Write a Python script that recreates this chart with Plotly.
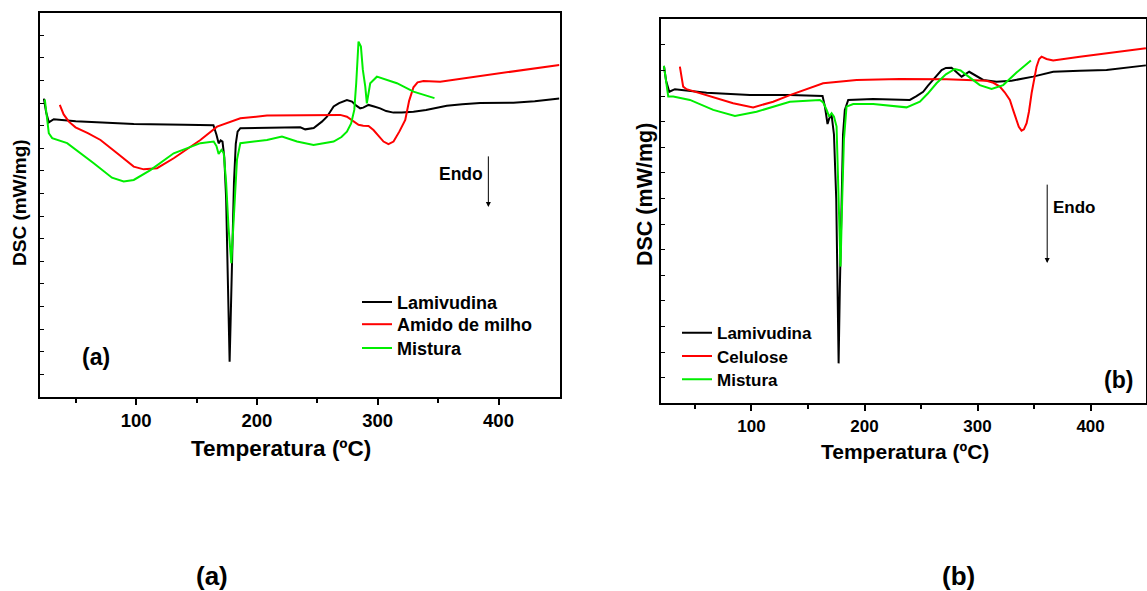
import plotly.graph_objects as go

W, H = 1147, 591
FONT = "Liberation Sans, Arial, sans-serif"

# ---------------- Panel (a): Lamivudina / Amido de milho / Mistura ----------------
names_a = ["Lamivudina", "Amido de milho", "Mistura"]
colors = ["#000000", "#ff0000", "#00ee00"]

a_lam_T = [23.6, 25.5, 27.7, 31.8, 50, 98, 140, 164, 166.5, 168.3, 170, 171.5, 173, 174.5, 175.8, 176.8,
           177.4, 178.3, 179.5, 181, 182.5, 184, 186.3, 200, 219.4, 235.9, 240, 247, 253.8, 258, 263.5,
           268, 274.5, 278.7, 282, 285.5, 288, 292.4, 297, 302, 307, 313, 320, 329.6, 340, 357.2, 370,
           384.8, 412.3, 430, 450.4]
a_lam_Y = [13.2, 12.6, 12.15, 12.29, 12.2, 12.08, 12.04, 12.02, 11.6, 11.22, 11.35, 11.3, 10.6, 8.8, 5.5, 3.0,
           1.56, 3.5, 6.5, 9.5, 11.2, 11.74, 11.89, 11.9, 11.89, 11.93, 11.84, 11.9, 12.18, 12.4, 12.85,
           13.0, 13.14, 13.07, 12.9, 12.77, 12.8, 12.92, 12.85, 12.77, 12.65, 12.58, 12.58, 12.62, 12.7, 12.88, 12.95,
           13.0, 13.02, 13.08, 13.2]

a_ami_T = [36.8, 40, 44.3, 49.8, 60, 70.5, 84.3, 98, 106.3, 117.3, 131.1, 153.2, 167, 186.3, 208.3, 235.9,
           269, 274.5, 280, 284.1, 288, 292.4, 296.5, 304.8, 308.9, 313.1, 318, 322.8, 326, 329.6, 333,
           337.9, 351.7, 384.8, 412.3, 450.4]
a_ami_Y = [12.92, 12.5, 12.18, 11.93, 11.67, 11.37, 10.78, 10.19, 10.07, 10.12, 10.56, 11.37, 11.96, 12.33, 12.45, 12.45,
           12.48, 12.4, 12.2, 12.04, 12.0, 11.99, 11.81, 11.3, 11.19, 11.3, 11.75, 12.26, 13.1, 13.7, 13.92,
           13.98, 13.95, 14.2, 14.39, 14.69]

a_mis_T = [24.4, 26, 27.7, 30.5, 42.9, 64.9, 80, 89.7, 98, 111.8, 131.1, 153.2, 164.2, 166.5, 168.3, 170.6,
           172.5, 174.5, 176.5, 178.8, 181, 183.5, 186.3, 208.3, 220.7, 233.2, 246.9, 263.5, 270, 274.5,
           278, 280.6, 282.2, 284.1, 286.1, 287.7, 289.7, 291, 293.8, 299.3, 315.9, 329.6, 347]
a_mis_Y = [13.17, 12.3, 11.67, 11.45, 11.23, 10.34, 9.7, 9.53, 9.6, 10.04, 10.78, 11.23, 11.3, 11.1, 10.75, 10.93,
           10.8, 9.5, 7.5, 5.92, 8.0, 10.5, 11.23, 11.37, 11.52, 11.3, 11.15, 11.3, 11.5, 11.74,
           12.1, 12.7, 13.88, 15.72, 15.5, 14.47, 13.73, 12.99, 13.88, 14.17, 13.88, 13.51, 13.22]

# ---------------- Panel (b): Lamivudina / Celulose / Mistura ----------------
names_b = ["Lamivudina", "Celulose", "Mistura"]

b_lam_T = [22.6, 24.5, 27.3, 32.3, 60.3, 98.6, 134, 162.9, 165, 167.3, 168.8, 170.9, 173, 175, 176,
           177.1, 178.2, 179.5, 181, 182.6, 185.6, 207.7, 231.3, 240.1, 246, 251.9, 256, 260.7, 265, 268.2,
           272, 277, 281, 285.9, 292.6, 298, 305, 316.8, 330, 349.2, 366.9, 390.5, 414.1, 448.9]
b_lam_Y = [13.18, 12.6, 12.17, 12.27, 12.13, 12.04, 12.04, 12.0, 11.59, 10.91, 11.13, 11.26, 10.5, 8.0, 5.0,
           1.56, 4.5, 8.0, 10.5, 11.46, 11.85, 11.89, 11.88, 11.85, 12.0, 12.17, 12.4, 12.63, 12.85, 13.02,
           13.1, 13.11, 12.95, 12.76, 12.95, 12.8, 12.63, 12.56, 12.6, 12.76, 12.95, 12.99, 13.02, 13.2]

b_cel_T = [36.7, 38, 39.6, 42.6, 60.3, 83.8, 101.5, 119.2, 134, 163.4, 193, 231.3, 272.6, 308, 314,
           319.7, 324, 328.6, 331.5, 334.5, 336.5, 338.9, 341, 343.4, 345.5, 347.8, 350, 352.2, 354.5,
           356.6, 361, 366.9, 390.5, 420, 448.9]
b_cel_Y = [13.15, 12.7, 12.37, 12.27, 12.04, 11.72, 11.56, 11.78, 12.04, 12.5, 12.63, 12.67, 12.66, 12.6, 12.52,
           12.37, 12.15, 11.85, 11.45, 11.07, 10.8, 10.65, 10.7, 10.94, 11.4, 12.11, 12.7, 13.15, 13.45,
           13.54, 13.45, 13.39, 13.54, 13.7, 13.87]

b_mis_T = [22.6, 24.5, 26.4, 30.8, 45.6, 66.2, 85.4, 104.5, 134, 160.5, 163.5, 166.5, 168.8, 170.9, 173,
           175.3, 177, 178.8, 180.3, 181.8, 184.1, 190, 207.7, 231.3, 237.2, 249, 256, 263.7, 272, 279.9,
           285, 290.3, 302, 312.4, 322.7, 334.5, 347.2]
b_mis_Y = [13.18, 12.5, 11.98, 11.98, 11.85, 11.46, 11.22, 11.39, 11.78, 11.85, 11.75, 11.46, 11.2, 11.33, 11.2,
           10.81, 8.5, 5.34, 8.0, 10.29, 11.59, 11.69, 11.69, 11.59, 11.56, 11.78, 12.1, 12.5, 12.85, 13.06,
           13.0, 12.82, 12.43, 12.28, 12.43, 12.92, 13.39]

x_tickvals = [100, 200, 300, 400]
x_minor_tickvals = [50, 150, 250, 350]
x_title = "Temperatura (ºC)"
y_title = "DSC (mW/mg)"


def px_x(x):
    return x / W


def px_y(y):
    return 1 - y / H


def bold(s):
    return dict(family=FONT, size=s, color="black", weight="bold")


fig = go.Figure()

series_a = [(a_lam_T, a_lam_Y), (a_ami_T, a_ami_Y), (a_mis_T, a_mis_Y)]
series_b = [(b_lam_T, b_lam_Y), (b_cel_T, b_cel_Y), (b_mis_T, b_mis_Y)]

# one legend per entry so every row sits where it does in the original
legend_layout = {}
leg_a_rows = [283.7, 306.0, 329.7]
leg_b_rows = [315.2, 338.5, 361.8]
k = 1
for (t, y), name, c, top in zip(series_a, names_a, colors, leg_a_rows):
    lname = "legend" if k == 1 else f"legend{k}"
    fig.add_trace(go.Scatter(x=t, y=y, mode="lines", name=name, line=dict(color=c, width=2),
                             xaxis="x", yaxis="y", legend=lname))
    legend_layout[lname] = dict(x=px_x(357), y=px_y(top), xanchor="left", yanchor="top",
                                bgcolor="rgba(0,0,0,0)", font=bold(18))
    k += 1
for (t, y), name, c, top in zip(series_b, names_b, colors, leg_b_rows):
    lname = f"legend{k}"
    fig.add_trace(go.Scatter(x=t, y=y, mode="lines", name=name, line=dict(color=c, width=2),
                             xaxis="x2", yaxis="y2", legend=lname))
    legend_layout[lname] = dict(x=px_x(677), y=px_y(top), xanchor="left", yanchor="top",
                                bgcolor="rgba(0,0,0,0)", font=bold(17))
    k += 1


def xaxis_style(fs):
    return dict(tickvals=x_tickvals, ticks="outside", ticklen=6, tickwidth=1.5, tickcolor="black",
                showline=True, linewidth=2, linecolor="black", mirror=True, showgrid=False,
                zeroline=False, tickfont=bold(fs),
                minor=dict(tickvals=x_minor_tickvals, ticks="outside", ticklen=4, tickwidth=1.5,
                           tickcolor="black", showgrid=False))


ycommon = dict(dtick=1, tick0=0, ticks="inside", ticklen=4, tickwidth=1, tickcolor="black",
               showline=True, linewidth=2, linecolor="black", mirror=True, showgrid=False,
               zeroline=False, showticklabels=False)

fig.update_layout(
    width=W, height=H, margin=dict(l=0, r=0, t=0, b=0),
    paper_bgcolor="white", plot_bgcolor="white",
    xaxis=dict(domain=[px_x(39.5), px_x(559.5)], range=[20, 450.5], anchor="y", **xaxis_style(18.5)),
    yaxis=dict(domain=[px_y(397), px_y(12.7)], range=[0, 17], anchor="x", **ycommon),
    xaxis2=dict(domain=[px_x(661), px_x(1146)], range=[20, 449], anchor="y2", **xaxis_style(17)),
    yaxis2=dict(domain=[px_y(403.3), px_y(19.3)], range=[0, 15], anchor="x2", **ycommon),
    showlegend=True,
    **legend_layout,
)

annotations = [
    # axis titles
    dict(text=x_title, x=px_x(280.5), y=px_y(448), xref="paper", yref="paper", showarrow=False,
         font=bold(22.5), xanchor="center", yanchor="middle"),
    dict(text=x_title, x=px_x(905), y=px_y(451.5), xref="paper", yref="paper", showarrow=False,
         font=bold(21), xanchor="center", yanchor="middle"),
    dict(text=y_title, x=px_x(20), y=px_y(203), xref="paper", yref="paper", showarrow=False,
         font=bold(19), textangle=-90, xanchor="center", yanchor="middle"),
    dict(text=y_title, x=px_x(645), y=px_y(195), xref="paper", yref="paper", showarrow=False,
         font=bold(21.5), textangle=-90, xanchor="center", yanchor="middle"),
    # in-panel labels
    dict(text="(a)", x=px_x(96), y=px_y(357), xref="paper", yref="paper", showarrow=False,
         font=bold(23), xanchor="center", yanchor="middle"),
    dict(text="(b)", x=px_x(1118), y=px_y(380), xref="paper", yref="paper", showarrow=False,
         font=bold(23), xanchor="center", yanchor="middle"),
    # Endo arrows
    dict(text="", x=391.6, y=8.41, ax=391.6, ay=10.71, xref="x", yref="y", axref="x", ayref="y",
         showarrow=True, arrowhead=2, arrowsize=1, arrowwidth=1, arrowcolor="black"),
    dict(text="Endo", x=px_x(484.5), y=px_y(174), xref="paper", yref="paper", showarrow=False,
         font=bold(17.5), xanchor="right", yanchor="middle"),
    dict(text="", x=361.6, y=5.48, ax=361.6, ay=8.6, xref="x2", yref="y2", axref="x2", ayref="y2",
         showarrow=True, arrowhead=2, arrowsize=1, arrowwidth=1, arrowcolor="black"),
    dict(text="Endo", x=px_x(1051), y=px_y(207), xref="paper", yref="paper", showarrow=False,
         font=bold(17), xanchor="left", yanchor="middle"),
    # captions
    dict(text="(a)", x=px_x(212), y=px_y(576), xref="paper", yref="paper", showarrow=False,
         font=bold(26), xanchor="center", yanchor="middle"),
    dict(text="(b)", x=px_x(958), y=px_y(576), xref="paper", yref="paper", showarrow=False,
         font=bold(26), xanchor="center", yanchor="middle"),
]
fig.update_layout(annotations=annotations)

fig.write_html("out.html")
